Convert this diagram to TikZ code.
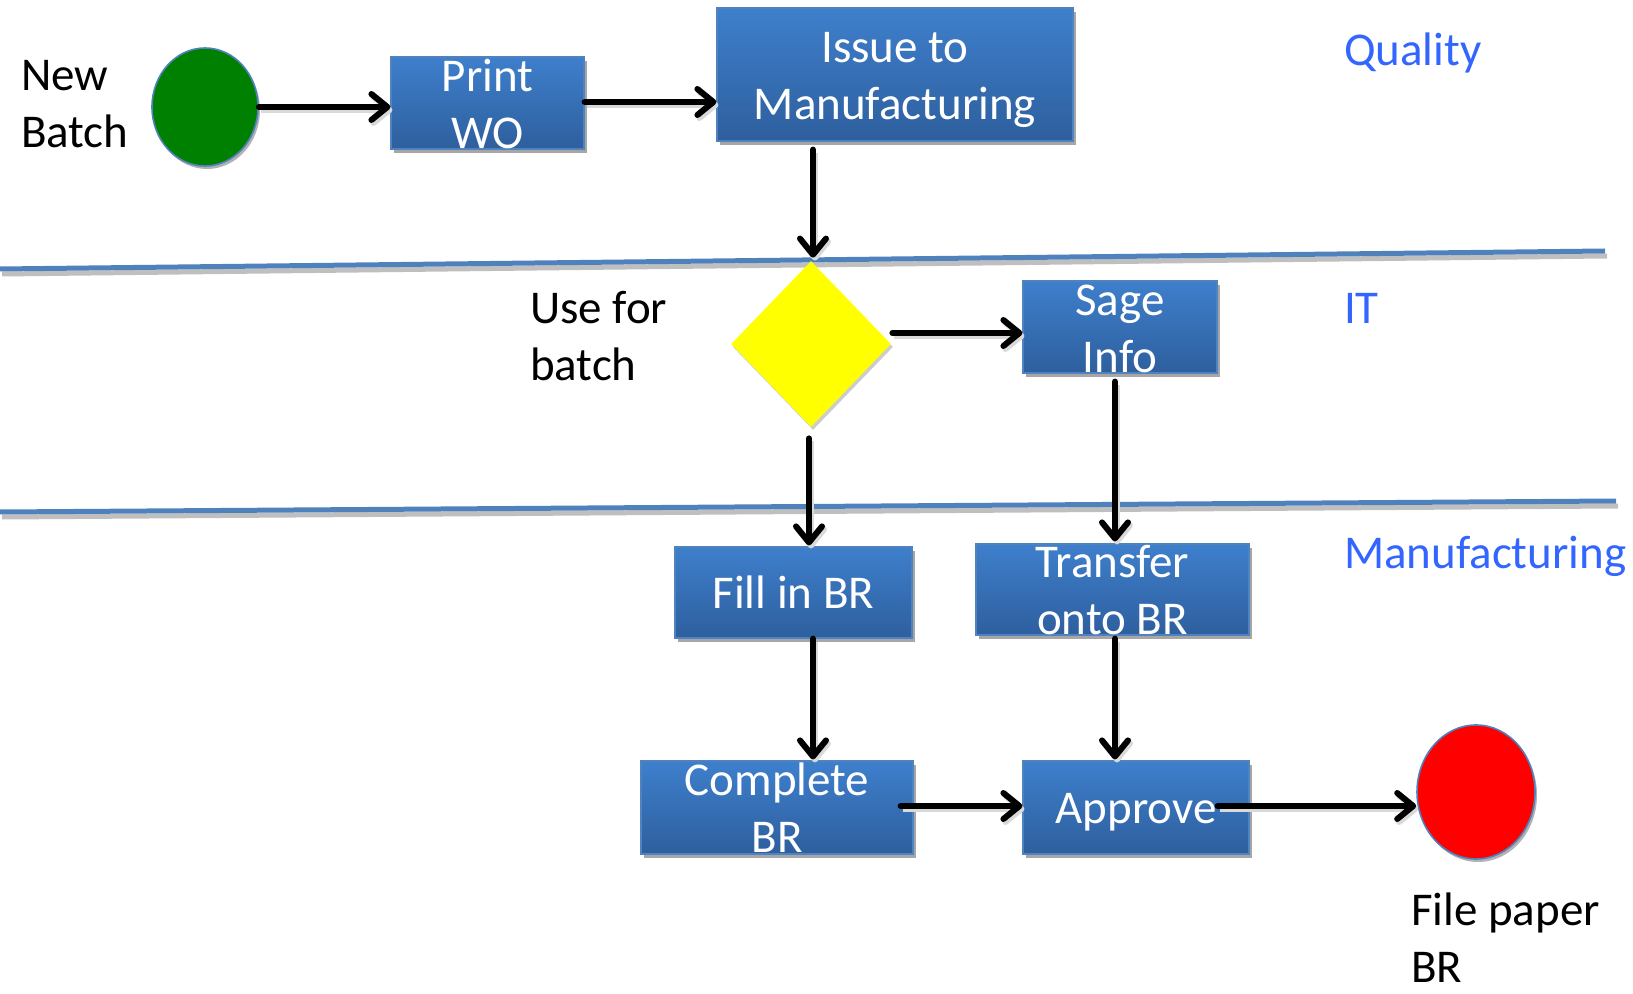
\documentclass[tikz,border=0pt]{standalone}
\usepackage{fontspec}
\setmainfont{Carlito}
\usetikzlibrary{arrows.meta,shapes.geometric,shadows,calc}
\definecolor{boxtop}{RGB}{62,127,204}
\definecolor{boxbot}{RGB}{46,95,158}
\definecolor{boxline}{RGB}{80,130,192}
\definecolor{laneblue}{RGB}{79,129,189}
\definecolor{lanetext}{RGB}{51,102,255}
\begin{document}
\begin{tikzpicture}[x=0.5pt,y=-0.5pt,
  every node/.style={font=\fontsize{23.5}{28.5}\selectfont},
  procbox/.style={rectangle, draw=boxline, line width=0.6pt,
    top color=boxtop, bottom color=boxbot, inner sep=0pt,
    drop shadow={shadow xshift=1.5pt, shadow yshift=-2pt, opacity=0.35, fill=black}},
  boxtext/.style={text=white, align=center},
  arr/.style={line width=3pt, line cap=round, line join=round,
    -{Straight Barb[length=8pt,width=13pt,round]},
    preaction={draw, black!15, line width=3pt,
      transform canvas={shift={(1pt,-1.5pt)}}}},
  lane/.style={line width=2.5pt, laneblue},
  laneshadow/.style={line width=2.5pt, black!25},
  lanelabel/.style={anchor=west, text=lanetext},
  plain/.style={anchor=west, align=left, text=black}]
\useasboundingbox (0,0) rectangle (1633,994);

% swimlane separators
\draw[laneshadow] (2,274) -- (1607,256);
\draw[lane] (0,269) -- (1605,251);
\draw[laneshadow] (2,517) -- (1618,506);
\draw[lane] (0,512) -- (1616,501);

% lane titles
\node[lanelabel] (lq) at (1337,53) {Quality};
\node[lanelabel] (lit) at (1337,308) {IT};
\node[lanelabel] (lm) at (1337,556) {Manufacturing};

% start and end events
\node[ellipse, fill={rgb,255:red,0;green,128;blue,0}, draw=laneblue, line width=0.8pt,
  minimum width=53pt, minimum height=59pt, inner sep=0pt,
  drop shadow={shadow xshift=1pt, shadow yshift=-1.5pt, opacity=0.3, fill=black}] (start) at (205,107) {};
\node[ellipse, fill=red, draw=laneblue, line width=0.8pt,
  minimum width=59pt, minimum height=67pt, inner sep=0pt,
  drop shadow={shadow xshift=1pt, shadow yshift=-1.5pt, opacity=0.3, fill=black}] (finish) at (1476,792) {};

% decision
\node[diamond, fill={rgb,255:red,255;green,255;blue,0}, inner sep=0pt, minimum width=80pt, minimum height=83pt,
  drop shadow={shadow xshift=1pt, shadow yshift=-1.5pt, opacity=0.2, fill=black}] (dia) at (811,344) {};

% process steps
\node[procbox, minimum width=96.5pt, minimum height=46pt,
  label={[boxtext, yshift=-0.5pt]center:{Print\\WO}}] (print) at (487.5,103) {};
\node[procbox, minimum width=178pt, minimum height=66.5pt,
  label={[boxtext, yshift=-2.5pt]center:{Issue to\\Manufacturing}}] (issue) at (895,74.5) {};
\node[procbox, minimum width=97pt, minimum height=46pt,
  label={[boxtext, yshift=-1.2pt]center:{Sage\\Info}}] (sage) at (1120,327) {};
\node[procbox, minimum width=118.5pt, minimum height=45.5pt,
  label={[boxtext]center:{Fill in BR}}] (fill) at (793.5,592.5) {};
\node[procbox, minimum width=136.5pt, minimum height=45.5pt,
  label={[boxtext, yshift=-0.5pt]center:{Transfer\\onto BR}}] (transfer) at (1112.5,589.5) {};
\node[procbox, minimum width=136pt, minimum height=46.5pt,
  label={[boxtext]center:{Complete\\BR}}] (complete) at (777,807.5) {};
\node[procbox, minimum width=113pt, minimum height=46.5pt,
  label={[boxtext, yshift=-2.5pt]center:{Approve}}] (approve) at (1136,807.5) {};

% free labels
\node[plain] (newbatch) at (14,104) {New\\Batch};
\node[plain] (usefor) at (523,336) {Use for\\batch};
\node[plain] (filepaper) at (1404,938) {File paper\\BR};

% connectors
\draw[arr] (start.east) -- (start.east -| print.west);
\draw[arr] ($(print.east)+(0,-1)$) -- ($(issue.west |- print.east)+(0,-1)$);
\draw[arr] ($(dia.north |- issue.south)+(2,8)$) -- ($(dia.north)+(2,-3)$);
\draw[arr] ($(dia.east)+(1,-11)$) -- ($(sage.west)+(0,6)$);
\draw[arr] ($(sage.south)+(-5,8)$) -- ($(sage.south |- transfer.north)+(-5,-2)$);
\draw[arr] ($(dia.south)+(-2,11)$) -- ($(dia.south |- fill.north)+(-2,-1)$);
\draw[arr] ($(fill.south)+(19.5,0)$) -- ($(fill.south |- complete.north)+(19.5,-1)$);
\draw[arr] ($(transfer.south)+(2.5,3)$) -- ($(transfer.south |- approve.north)+(2.5,-1)$);
\draw[arr] ($(complete.east)+(-13,-1.5)$) -- ($(approve.west)+(0,-1.5)$);
\draw[arr] ($(approve.east)+(-32,-1.5)$) -- ($(finish.west)+(0,14)$);
\end{tikzpicture}
\end{document}
